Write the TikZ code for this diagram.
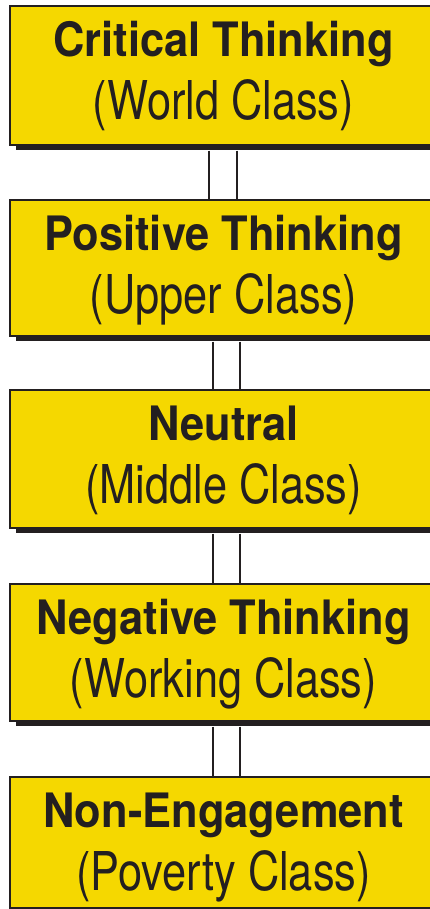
\documentclass[tikz,border=0pt]{standalone}
\usepackage{fontspec}
\setmainfont{TeX Gyre Heros}
\usepackage{graphicx}
\usetikzlibrary{shadows}
\definecolor{boxyellow}{HTML}{F5D800}
\definecolor{ink}{HTML}{231F20}
\tikzset{
  levelbox/.style={draw=ink, line width=1.6pt, fill=boxyellow, rectangle, inner sep=0pt,
    minimum width=431pt, anchor=north west,
    drop shadow={shadow xshift=6pt, shadow yshift=-5pt, fill=ink, opacity=1}},
  headtext/.style={anchor=base, inner sep=0pt, text=ink,
    font=\fontsize{47.4pt}{50pt}\selectfont\bfseries},
  subtext/.style={anchor=base, inner sep=0pt, text=ink,
    font=\fontsize{53.5pt}{56pt}\selectfont},
  conn/.style={draw=ink, line width=1.5pt}
}
\newcommand{\hdtxt}[1]{\scalebox{0.916}[1]{#1}}
\newcommand{\sbtxt}[1]{\scalebox{0.81}[1]{#1}}
\begin{document}
\begin{tikzpicture}[x=1pt,y=-1pt]
\useasboundingbox (0,0) rectangle (430,909);
\clip (0,0) rectangle (430,909);
\fill[white] (0,0) rectangle (430,909);
% boxes
\node[levelbox, minimum height=139pt] (b1) at (9,5) {};
\node[levelbox, minimum height=136pt] (b2) at (9,199) {};
\node[levelbox, minimum height=138pt] (b3) at (9,389) {};
\node[levelbox, minimum height=137pt] (b4) at (9,583) {};
\node[levelbox, minimum height=131pt] (b5) at (9,776) {};
% connectors
\draw[conn] ([xshift=-16.5pt,yshift=-5pt]b1.south) -- ([xshift=-16.5pt]b2.north);
\draw[conn] ([xshift=11.5pt,yshift=-5pt]b1.south) -- ([xshift=11.5pt]b2.north);
\draw[conn] ([xshift=-12.5pt,yshift=-5pt]b2.south) -- ([xshift=-12.5pt]b3.north);
\draw[conn] ([xshift=14.5pt,yshift=-5pt]b2.south) -- ([xshift=14.5pt]b3.north);
\draw[conn] ([xshift=-12.5pt,yshift=-5pt]b3.south) -- ([xshift=-12.5pt]b4.north);
\draw[conn] ([xshift=14.5pt,yshift=-5pt]b3.south) -- ([xshift=14.5pt]b4.north);
\draw[conn] ([xshift=-12.5pt,yshift=-5pt]b4.south) -- ([xshift=-12.5pt]b5.north);
\draw[conn] ([xshift=14.5pt,yshift=-5pt]b4.south) -- ([xshift=14.5pt]b5.north);
% texts
\node[headtext] (t1a) at (223.5,56.5) {\hdtxt{Critical Thinking}};
\node[subtext]  (t1b) at (223.5,120) {\sbtxt{(World Class)}};
\node[headtext] (t2a) at (223.5,250) {\hdtxt{Positive Thinking}};
\node[subtext]  (t2b) at (223.5,313.5) {\sbtxt{(Upper Class)}};
\node[headtext] (t3a) at (223.5,440) {\hdtxt{Neutral}};
\node[subtext]  (t3b) at (223.5,503.5) {\sbtxt{(Middle Class)}};
\node[headtext] (t4a) at (223.5,634) {\hdtxt{Negative Thinking}};
\node[subtext]  (t4b) at (223.5,697.5) {\sbtxt{(Working Class)}};
\node[headtext] (t5a) at (223.5,827) {\hdtxt{Non-Engagement}};
\node[subtext]  (t5b) at (223.5,890.5) {\sbtxt{(Poverty Class)}};
\end{tikzpicture}
\end{document}
